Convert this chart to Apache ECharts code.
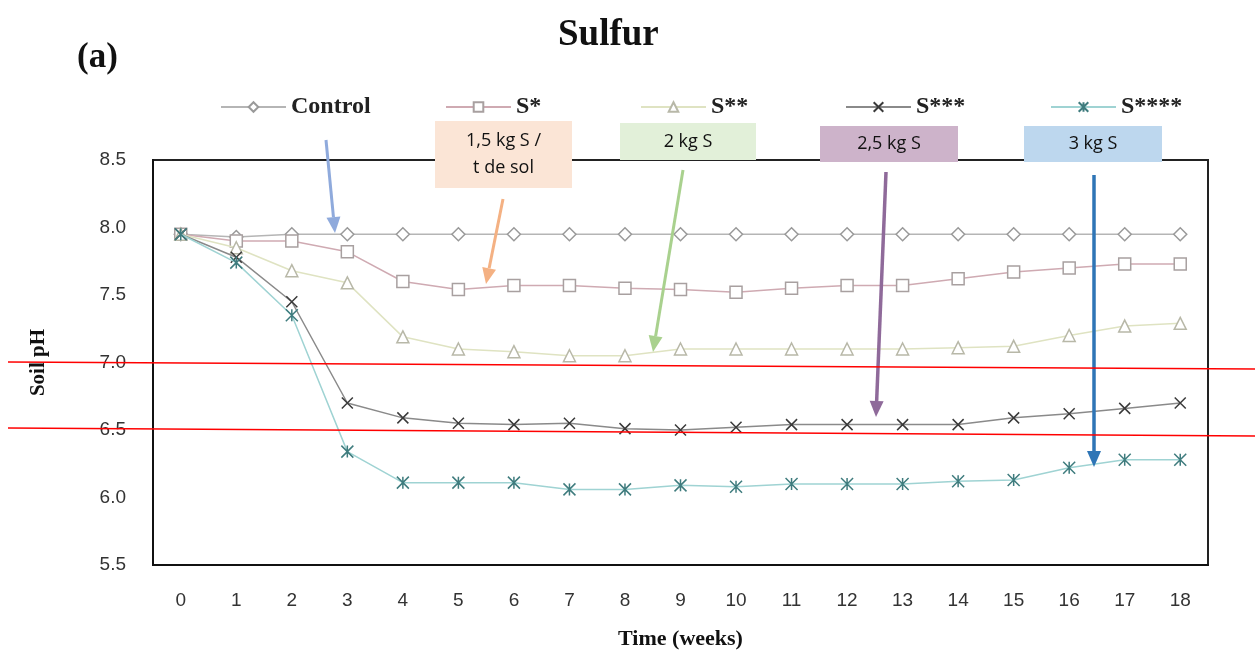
<!DOCTYPE html>
<html>
<head>
<meta charset="utf-8">
<script src="https://cdn.jsdelivr.net/npm/echarts@6/dist/echarts.min.js"></script>
<style>html,body{margin:0;padding:0;background:#fff}#c{width:1255px;height:656px}</style>
</head>
<body>
<div id="c"></div>
<script>
const weeks = ['0','1','2','3','4','5','6','7','8','9','10','11','12','13','14','15','16','17','18'];
const yTicks = [5.5, 6.0, 6.5, 7.0, 7.5, 8.0, 8.5];
const seriesNames = ['Control', 'S*', 'S**', 'S***', 'S****'];
const control = [7.95,7.93,7.95,7.95,7.95,7.95,7.95,7.95,7.95,7.95,7.95,7.95,7.95,7.95,7.95,7.95,7.95,7.95,7.95];
const sOne    = [7.95,7.90,7.90,7.82,7.60,7.54,7.57,7.57,7.55,7.54,7.52,7.55,7.57,7.57,7.62,7.67,7.70,7.73,7.73];
const sTwo    = [7.95,7.85,7.68,7.59,7.19,7.10,7.08,7.05,7.05,7.10,7.10,7.10,7.10,7.10,7.11,7.12,7.20,7.27,7.29];
const sThree  = [7.95,7.78,7.45,6.70,6.59,6.55,6.54,6.55,6.51,6.50,6.52,6.54,6.54,6.54,6.54,6.59,6.62,6.66,6.70];
const sFour   = [7.95,7.74,7.35,6.34,6.11,6.11,6.11,6.06,6.06,6.09,6.08,6.10,6.10,6.10,6.12,6.13,6.22,6.28,6.28];
const annotations = ['1,5 kg S /\nt de sol', '2 kg S', '2,5 kg S', '3 kg S'];

const chart = echarts.init(document.getElementById('c'));
const serif = 'Liberation Serif';

function arrow(x1, y1, x2, y2, color, w) {
  const ang = Math.atan2(y2 - y1, x2 - x1);
  const L = 16, H = 7;
  const bx = x2 - L * Math.cos(ang), by = y2 - L * Math.sin(ang);
  const px = -Math.sin(ang) * H, py = Math.cos(ang) * H;
  return [
    {type: 'line', z: 50, shape: {x1, y1, x2: bx, y2: by}, style: {stroke: color, lineWidth: w}},
    {type: 'polygon', z: 50, shape: {points: [[x2, y2], [bx + px, by + py], [bx - px, by - py]]}, style: {fill: color}}
  ];
}
function box(x, y, w, h, fill, text) {
  return {type: 'group', z: 40, children: [
    {type: 'rect', shape: {x: x, y: y, width: w, height: h}, style: {fill: fill}},
    {type: 'text', x: x + w / 2, y: y + h / 2, style: {text: text, fill: '#111', font: '18px "Open Sans"', align: 'center', verticalAlign: 'middle', lineHeight: 27}}
  ]};
}

const styles = [
  {sym: 'diamond', size: 13, line: '#b5b5b5', border: '#9a9a9a', fill: '#fff'},
  {sym: 'rect', size: 12, line: '#cfaab2', border: '#a8a0a0', fill: '#fff'},
  {sym: 'triangle', size: 12, line: '#dfe3c2', border: '#b8b8a8', fill: '#fff'},
  {sym: 'path://M0,0L10,10M10,0L0,10', size: 11, line: '#8a8a8a', border: '#3a3a3a', fill: '#3a3a3a'},
  {sym: 'path://M0,0L10,10M10,0L0,10M5,0L5,10', size: 12, line: '#9fd3d3', border: '#3f7c7e', fill: '#3f7c7e'}
];
const dataSets = [control, sOne, sTwo, sThree, sFour];

const series = dataSets.map((d, i) => ({
  name: seriesNames[i], type: 'line', data: d, symbol: styles[i].sym, symbolSize: styles[i].size,
  showAllSymbol: true,
  lineStyle: {color: styles[i].line, width: 1.5},
  itemStyle: {color: styles[i].fill, borderColor: styles[i].border, borderWidth: 1.5},
  z: 2 + i
}));

const legendLefts = [215, 440, 635, 840, 1045];
const legends = seriesNames.map((n, i) => ({
  data: [n], left: legendLefts[i], top: 90, itemWidth: 65, itemHeight: 12, itemGap: 0,
  textStyle: {fontFamily: serif, fontWeight: 'bold', fontSize: 24, color: '#222'}
}));

const graphics = [
  {type: 'text', left: 77, top: 40, style: {text: '(a)', font: 'bold 35px "Liberation Serif"', fill: '#111'}},
  {type: 'line', z: 60, shape: {x1: 8, y1: 362, x2: 1255, y2: 369}, style: {stroke: '#ff0000', lineWidth: 1.5}},
  {type: 'line', z: 60, shape: {x1: 8, y1: 428, x2: 1255, y2: 436}, style: {stroke: '#ff0000', lineWidth: 1.5}},
  box(435, 121, 137, 67, '#fbe5d6', annotations[0]),
  box(620, 123, 136, 37, '#e2f0d9', annotations[1]),
  box(820, 126, 138, 36, '#cdb3ca', annotations[2]),
  box(1024, 126, 138, 36, '#bdd7ee', annotations[3]),
  ...arrow(326, 140, 335, 233, '#8faadc', 3),
  ...arrow(503, 199, 486, 284, '#f4b183', 3),
  ...arrow(683, 170, 653, 352, '#a9d18e', 3),
  ...arrow(886, 172, 876, 417, '#8f6a9a', 3.5),
  ...arrow(1094, 175, 1094, 467, '#2e75b6', 3.5)
];

chart.setOption({
  backgroundColor: '#fff',
  animation: false,
  title: {text: 'Sulfur', left: 553, top: 12, textStyle: {fontFamily: serif, fontWeight: 'bold', fontSize: 37, color: '#111'}},
  legend: legends,
  grid: {left: 153, right: 47, top: 160, bottom: 91, show: true, borderColor: '#222', borderWidth: 2},
  xAxis: {
    type: 'category', data: weeks, boundaryGap: true,
    name: 'Time (weeks)', nameLocation: 'middle', nameGap: 63,
    nameTextStyle: {fontFamily: serif, fontWeight: 'bold', fontSize: 22, color: '#111'},
    axisLine: {show: true, lineStyle: {color: '#111', width: 2}},
    axisTick: {show: false},
    axisLabel: {margin: 26, fontFamily: 'Liberation Sans', fontSize: 19, color: '#333'}
  },
  yAxis: {
    type: 'value', min: yTicks[0], max: yTicks[yTicks.length - 1], interval: 0.5,
    name: 'Soil pH', nameLocation: 'middle', nameGap: 104, nameRotate: 90,
    nameTextStyle: {fontFamily: serif, fontWeight: 'bold', fontSize: 21, color: '#111'},
    axisLine: {show: true, lineStyle: {color: '#111', width: 2}},
    axisTick: {show: false},
    splitLine: {show: false},
    axisLabel: {margin: 27, fontFamily: 'Liberation Sans', fontSize: 19, color: '#333', formatter: v => v.toFixed(1)}
  },
  series: series,
  graphic: graphics
});
</script>
</body>
</html>
